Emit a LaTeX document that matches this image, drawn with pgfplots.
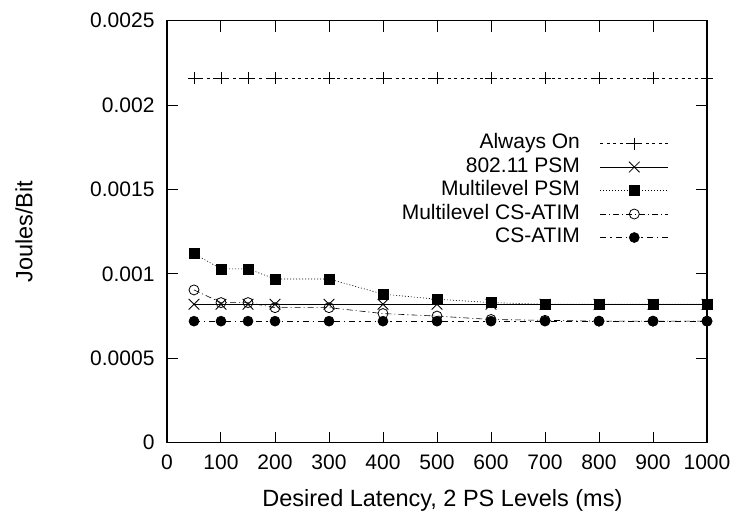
\documentclass[border=0pt]{standalone}
\usepackage{pgfplots}
\pgfplotsset{compat=1.18}
\usepackage{fontspec}
\setmainfont{Liberation Sans}
\begin{document}
\begin{tikzpicture}
\path (-167pt,-73.3pt) rectangle (571pt,442.7pt);
\begin{axis}[
  scale only axis,
  width=540pt, height=422pt,
  xmin=0, xmax=1000, ymin=0, ymax=0.0025,
  xtick={0,100,...,1000},
  ytick={0,0.0005,0.001,0.0015,0.002,0.0025},
  scaled y ticks=false,
  yticklabel style={/pgf/number format/fixed, /pgf/number format/precision=4, xshift=-9pt},
  xticklabel style={/pgf/number format/1000 sep={}, yshift=-9pt},
  /pgf/number format/assume math mode=true,
  tick label style={font=\fontsize{21}{24}\selectfont},
  tick align=inside,
  major tick length=11pt,
  axis line style={line width=1.2pt},
  every tick/.style={black, line width=1pt},
  xlabel={Desired Latency, 2 PS Levels (ms)},
  ylabel={Joules/Bit},
  every axis x label/.style={at={(axis description cs:0.51,-0.136)}, anchor=center, font=\fontsize{23.5}{26}\selectfont},
  every axis y label/.style={at={(axis description cs:-0.265,0.5)}, rotate=90, anchor=center, font=\fontsize{23.5}{26}\selectfont},
  legend plot pos=right,
  legend cell align=right,
  legend style={draw=none, fill=none, at={(0.935,0.742)}, anchor=north east,
    font=\fontsize{21}{24}\selectfont, row sep=0pt, column sep=18pt,
    nodes={inner sep=2pt, text height=15pt, text depth=4.5pt}},
  legend image code/.code={\draw[mark repeat=2,mark phase=2,#1] plot coordinates {(0pt,0pt) (34pt,0pt) (68pt,0pt)};},
]
\addplot[black, line width=0.6pt, dash pattern=on 3pt off 3.5pt, mark=+, mark size=6pt, mark options={solid}] coordinates {
(50,0.00216) (100,0.00216) (150,0.00216) (200,0.00216) (300,0.00216) (400,0.00216) (500,0.00216) (600,0.00216) (700,0.00216) (800,0.00216) (900,0.00216) (1000,0.00216)};
\addlegendentry{Always On}
\addplot[black, line width=0.8pt, mark=x, mark size=7.5pt, mark options={solid}] coordinates {
(50,0.00082) (100,0.00082) (150,0.00082) (200,0.00082) (300,0.00082) (400,0.00082) (500,0.00082) (600,0.00082) (700,0.00082) (800,0.00082) (900,0.00082) (1000,0.00082)};
\addlegendentry{802.11 PSM}
\addplot[black, line width=0.6pt, dash pattern=on 1pt off 2pt, mark=square*, mark size=5pt, mark options={solid}] coordinates {
(50,0.00112) (100,0.00103) (150,0.00103) (200,0.00097) (300,0.00097) (400,0.00088) (500,0.00085) (600,0.00083) (700,0.00082) (800,0.00082) (900,0.00082) (1000,0.00082)};
\addlegendentry{Multilevel PSM}
\addplot[black, line width=0.6pt, dash pattern=on 6pt off 3pt on 1pt off 3pt, mark=o, mark size=5pt, mark options={solid, line width=0.8pt}] coordinates {
(50,0.000905) (100,0.00083) (150,0.00083) (200,0.0008) (300,0.0008) (400,0.000765) (500,0.00075) (600,0.00073) (700,0.000725) (800,0.00072) (900,0.00072) (1000,0.00072)};
\addlegendentry{Multilevel CS-ATIM}
\addplot[black, line width=0.6pt, dash pattern=on 6pt off 4pt on 1.5pt off 4pt, mark=*, mark size=5pt, mark options={solid}] coordinates {
(50,0.00072) (100,0.00072) (150,0.00072) (200,0.00072) (300,0.00072) (400,0.00072) (500,0.00072) (600,0.00072) (700,0.00072) (800,0.00072) (900,0.00072) (1000,0.00072)};
\addlegendentry{CS-ATIM}
\end{axis}
\end{tikzpicture}
\end{document}
